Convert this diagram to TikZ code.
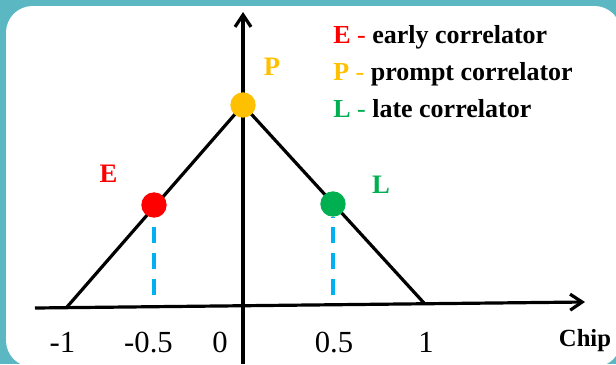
\documentclass[tikz,border=0pt]{standalone}
\usepackage{fontspec}
\setmainfont{Liberation Serif}
\usetikzlibrary{arrows.meta}
\definecolor{frameteal}{HTML}{5BB8C2}
\definecolor{earlyred}{HTML}{FF0000}
\definecolor{promptgold}{HTML}{FFC000}
\definecolor{lategreen}{HTML}{00B050}
\definecolor{projblue}{HTML}{00B0F0}
\tikzset{
axis/.style={line width=2.4pt,-{Straight Barb[length=9pt,width=12pt]}},
corr/.style={line width=2.4pt,line join=round},
proj/.style={line width=3pt,projblue,dash pattern=on 12pt off 7.5pt},
dot/.style={circle,inner sep=0pt,minimum size=19pt},
tag/.style={font=\fontsize{20}{24}\selectfont\bfseries,anchor=base,inner sep=0pt},
legend/.style={font=\fontsize{19.5}{24}\selectfont\bfseries,anchor=base west,inner sep=0pt},
num/.style={font=\fontsize{23}{27}\selectfont,anchor=base,inner sep=0pt}
}
\begin{document}
\begin{tikzpicture}[x=0.75pt,y=-0.75pt]
\useasboundingbox (0,0) rectangle (616,364);
\fill[frameteal] (0,0) rectangle (616,364);
\fill[white,rounded corners=20pt] (6,6) rectangle (621,367);
% axes
\coordinate (xl) at (35,308);
\coordinate (xr) at (585,302);
\coordinate (yb) at (243,364);
\coordinate (yt) at (243,12);
\draw[axis] (xl) -- (xr);
\draw[axis] (yb) -- (yt);
% correlation triangle
\coordinate (m1) at (67,307);
\coordinate (p1) at (424,303);
\coordinate (top) at (243,105);
\draw[corr] (m1) -- (top) -- (p1);
% correlators
\node[dot,fill=earlyred] (E) at (154,205) {};
\node[dot,fill=promptgold] (P) at (top) {};
\node[dot,fill=lategreen] (L) at (333,204) {};
\coordinate (Efoot) at (154,295);
\coordinate (Lfoot) at (333,295);
\draw[proj] (Efoot) -- (E);
\draw[proj] (Lfoot) -- (L);
\node[tag,text=earlyred] (Elab) at (108.5,182) {E};
\node[tag,text=promptgold] (Plab) at (272,75) {P};
\node[tag,text=lategreen] (Llab) at (381,193) {L};
% legend
\node[legend] (leg1) at (333,43) {\textcolor{earlyred}{E \mdseries-} early correlator};
\node[legend] (leg2) at (333,80) {\textcolor{promptgold}{P \mdseries-} prompt correlator};
\node[legend] (leg3) at (333,117) {\textcolor{lategreen}{L \mdseries-} late correlator};
% chip axis labels
\node[num] (tm1) at (62.5,352) {-1};
\node[num] (tm05) at (148.5,352) {-0.5};
\node[num] (t0) at (220,352) {0};
\node[num] (t05) at (334,352) {0.5};
\node[num] (t1) at (426,352) {1};
\node[tag,font=\fontsize{18.5}{22}\selectfont\bfseries] (chip) at (585,346) {Chip};
\end{tikzpicture}
\end{document}
